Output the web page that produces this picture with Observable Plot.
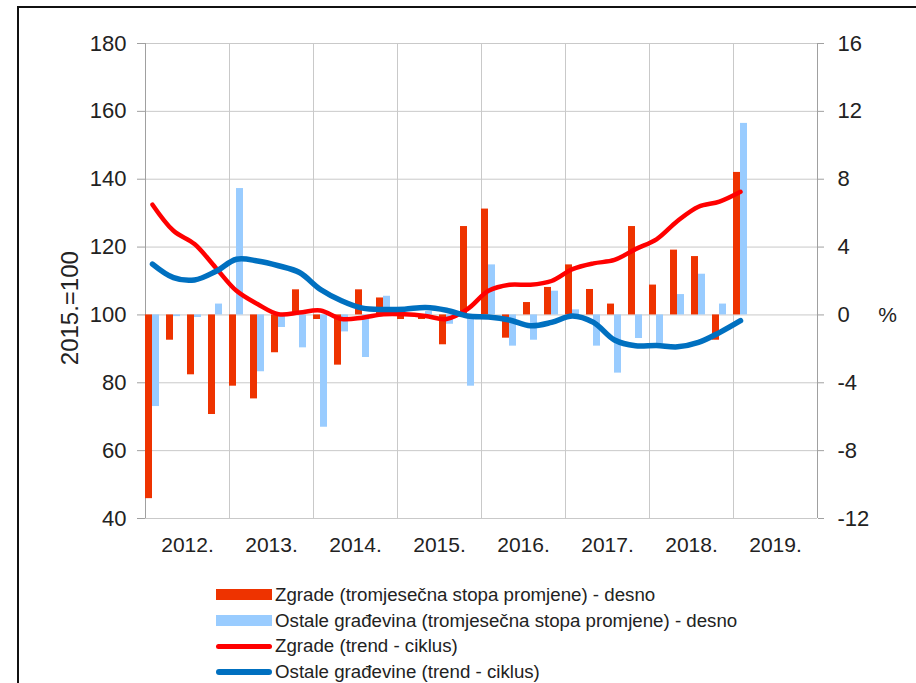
<!DOCTYPE html>
<html><head><meta charset="utf-8">
<script src="https://cdn.jsdelivr.net/npm/d3@7"></script>
<script src="https://cdn.jsdelivr.net/npm/@observablehq/plot@0.6"></script>
<style>
body{margin:0;background:#fff;overflow:hidden;width:916px;height:683px;position:relative;font-family:"Liberation Sans",Arial,sans-serif;}
#chart{position:absolute;left:0;top:0;}
#frame{position:absolute;left:17px;top:6px;width:1000px;height:1000px;border:2px solid #111;box-sizing:border-box;pointer-events:none;}
#legend{position:absolute;left:216px;top:582px;font-size:18.7px;color:#222;}
.row{display:flex;align-items:center;height:25.7px;white-space:nowrap;}
.sw{width:56px;margin-right:3px;}
</style></head><body>
<div id="chart"></div>
<div id="frame"></div>
<div id="legend"></div>
<script>
const years = ["2012.","2013.","2014.","2015.","2016.","2017.","2018.","2019."];
// quarterly rates of change (%), right axis, 2012 Q1 – 2019 Q1
const zgradeRate = [-10.83,-1.49,-3.53,-5.87, -4.2,-4.95,-2.23,1.48, -0.27,-2.96,1.48,1.0, -0.27,-0.27,-1.76,5.21, 6.24,-1.37,0.73,1.62, 2.95,1.5,0.64,5.21, 1.76,3.82,3.44,-1.49, 8.4];
const ostaleRate = [-5.4,-0.1,-0.15,0.64, 7.45,-3.35,-0.74,-1.94, -6.62,-1.0,-2.51,1.1, -0.1,0.2,-0.55,-4.2, 2.95,-1.84,-1.49,1.4, 0.3,-1.84,-3.43,-1.39, -1.72,1.2,2.4,0.64, 11.29];
// trend-cycle indices (2015 = 100), left axis
const zgradeTrend = [132.5,124.8,120.9,114,107.1,103.2,100.2,100.7, 101.3,98.8,99.2,100.2, 100.2,99.7,98.8,101.7, 107.1,108.9,108.9,110, 113.5,115.2,116.2,119.4, 122.3,127.7,131.9,133.4, 136.3];
const ostaleTrend = [115,111,110.3,112.8,116.4,115.9,114.5,112.5, 107.5,104.2,102,101.6, 101.7,102.2,101.4,99.7, 99.4,98.5,96.8,97.8, 99.7,97.8,92.6,90.9, 91,90.6,91.9,94.8, 98.3];
const leftTicks = [40,60,80,100,120,140,160,180];
const rightTicks = [-12,-8,-4,0,4,8,12,16];
const yTitle = "2015.=100";
const rightUnit = "%";
const legendLabels = [
  "Zgrade (tromjesečna stopa promjene) - desno",
  "Ostale građevina (tromjesečna stopa promjene) - desno",
  "Zgrade (trend - ciklus)",
  "Ostale građevine (trend - ciklus)"
];

const C = {redBar:"#ee3300", blueBar:"#99ccff", redLine:"#ff0000", blueLine:"#0070c0", grid:"#c9c9c9", axis:"#a0a0a0", text:"#222"};
const pctToIdx = p => 100 + 5 * p; // right axis (-12..16) onto left axis (40..180)
const nQ = 32;

const chart = Plot.plot({
  width: 916, height: 560,
  marginLeft: 145, marginRight: 99, marginTop: 43, marginBottom: 42,
  style: {fontFamily: "'Liberation Sans', Arial, sans-serif", fontSize: "22px", color: C.text, background: "transparent"},
  x: {domain: [0, nQ], axis: null},
  y: {domain: [40, 180], axis: null},
  marks: [
    Plot.gridY(leftTicks, {stroke: C.grid, strokeOpacity: 1}),
    Plot.ruleX(d3.range(4, nQ, 4), {stroke: C.grid, strokeOpacity: 1}),
    Plot.ruleX([0, nQ], {stroke: C.axis}),
    Plot.axisY({anchor: "left", ticks: leftTicks, tickSize: 8, tickPadding: 11, stroke: C.axis, fill: C.text, fontSize: 22, label: null}),
    Plot.axisY({anchor: "right", ticks: rightTicks.map(pctToIdx), tickFormat: d => String((d - 100) / 5), tickSize: 6, tickPadding: 14, stroke: C.axis, fill: C.text, fontSize: 22, label: null}),
    Plot.rect(zgradeRate, {x1: (d, i) => i, x2: (d, i) => i + 1/3, y1: () => 100, y2: d => pctToIdx(d), fill: C.redBar}),
    Plot.rect(ostaleRate, {x1: (d, i) => i + 1/3, x2: (d, i) => i + 2/3, y1: () => 100, y2: d => pctToIdx(d), fill: C.blueBar}),
    Plot.line(zgradeTrend, {x: (d, i) => i + 1/3, y: d => d, stroke: C.redLine, strokeWidth: 4.5, curve: "catmull-rom", strokeLinecap: "round"}),
    Plot.line(ostaleTrend, {x: (d, i) => i + 1/3, y: d => d, stroke: C.blueLine, strokeWidth: 5.5, curve: "catmull-rom", strokeLinecap: "round"}),
    Plot.text(years, {x: (d, i) => 4 * i + 2, frameAnchor: "bottom", dy: 33, fontSize: 21, fill: C.text}),
    Plot.text([yTitle], {frameAnchor: "left", y: () => 102, rotate: -90, dx: -75, textAnchor: "middle", fontSize: 24, fill: C.text}),
    Plot.text([rightUnit], {frameAnchor: "right", y: () => 100, dx: 70, textAnchor: "middle", fontSize: 21, fill: C.text})
  ]
});
document.getElementById("chart").appendChild(chart);

const swatches = [
  `<div class="sw" style="height:11px;background:${C.redBar}"></div>`,
  `<div class="sw" style="height:11px;background:${C.blueBar}"></div>`,
  `<div class="sw" style="height:5px;border-radius:3px;background:${C.redLine}"></div>`,
  `<div class="sw" style="height:5.5px;border-radius:3px;background:${C.blueLine}"></div>`
];
document.getElementById("legend").innerHTML = legendLabels.map((t, i) =>
  `<div class="row">${swatches[i]}<span>${t}</span></div>`).join("");
</script>
</body></html>
